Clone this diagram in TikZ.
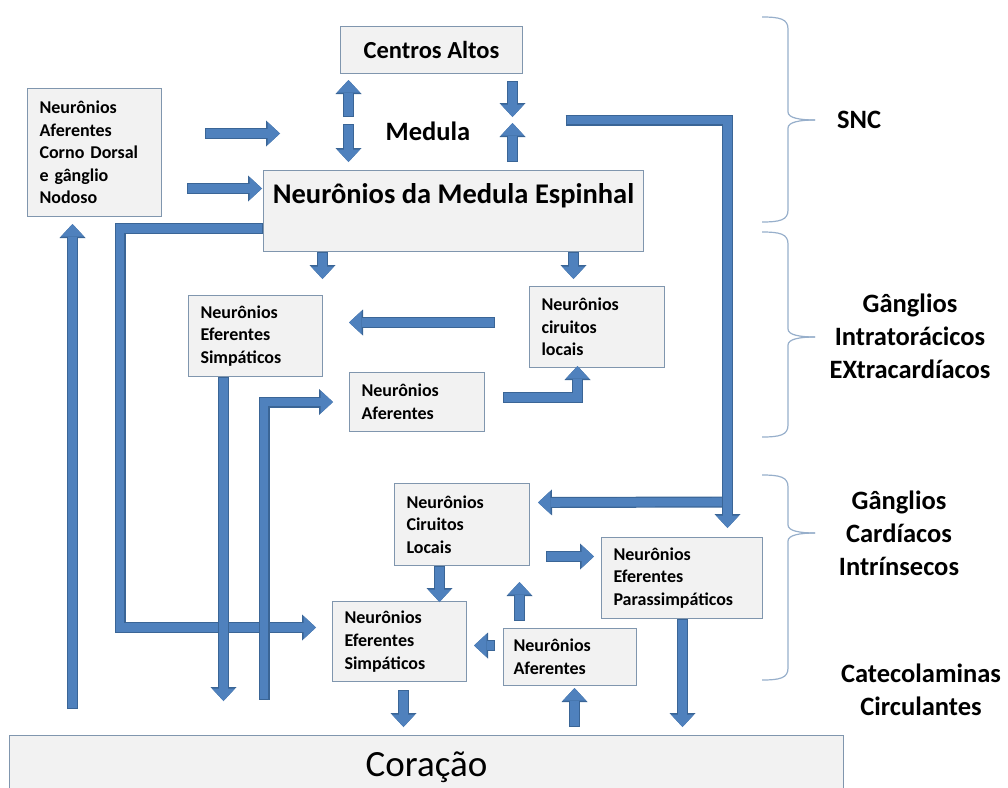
\documentclass[tikz,border=0pt]{standalone}
\usepackage{fontspec}
\setmainfont{Carlito}
\usetikzlibrary{arrows.meta,calc}
\definecolor{afill}{HTML}{4F81BD}
\definecolor{aline}{HTML}{3A6596}
\definecolor{bfill}{HTML}{F2F2F2}
\definecolor{bline}{HTML}{8096AE}
\definecolor{brc}{HTML}{97AFCB}
\newcommand\smallboxfont{\fontsize{18}{22.6}\selectfont\bfseries}
\newcommand\biglabfont{\fontsize{26.5}{33}\selectfont\bfseries}
\newcommand\barrow[1]{\draw[arrout] #1; \draw[arrin] #1;}
\newcommand\mybrace[3]{%
  \draw[bracestyle] (762,#1) .. controls (780,#1) and (788,{#1+2}) .. (788,{#1+12}) -- (788,{#2-8}) .. controls (788,{#2-2}) and (800,#2) .. (815,#2);
  \draw[bracestyle] (815,#2) .. controls (800,#2) and (788,{#2+2}) .. (788,{#2+8}) -- (788,{#3-12}) .. controls (788,{#3-2}) and (780,#3) .. (762,#3);}
\tikzset{
  box/.style={draw=bline, line width=1pt, fill=bfill, inner xsep=12pt, inner ysep=0pt, align=left, anchor=north west, font=\smallboxfont},
  arrout/.style={draw=aline, line width=11pt, line join=miter, -{Triangle[width=26pt,length=14pt,line width'=0pt]}},
  arrin/.style={draw=afill, line width=8.6pt, line join=miter, shorten <=1pt, -{Triangle[width=23pt,length=12.5pt,line width'=0pt]}},
  bracestyle/.style={draw=brc, line width=1.2pt},
  lab/.style={font=\biglabfont, align=center},
}
\begin{document}
\begin{tikzpicture}[x=1pt,y=-1pt]
\useasboundingbox (0,0) rectangle (1008,787);
\clip (0,0) rectangle (1008,787);
% boxes
\node[box, minimum width=182pt, minimum height=47pt, align=center, inner xsep=0pt, font=\fontsize{24.5}{27}\selectfont\bfseries] (ca) at (340,26) {Centros Altos};
\node[box, minimum width=134pt, minimum height=128pt, text width=110pt] (lbox) at (27,88) {Neurônios\\Aferentes\\Corno Dorsal\\e gânglio\\Nodoso};
\node[box, minimum width=380pt, minimum height=81pt] (med) at (263,170) {};
\node[font=\fontsize{28.5}{31}\selectfont\bfseries, anchor=base] (medtext) at ($(med.north)+(0,33)$) {Neurônios da Medula Espinhal};
\node[font=\fontsize{26.5}{29}\selectfont\bfseries] (medlab) at (428,131) {Medula};
\node[box, minimum width=134pt, minimum height=81pt, text width=110pt] (es1) at (188,295) {Neurônios\\Eferentes\\Simpáticos};
\node[box, minimum width=135pt, minimum height=59pt, text width=111pt] (af1) at (349,372) {Neurônios\\Aferentes};
\node[box, minimum width=135pt, minimum height=81pt, text width=111pt] (cl1) at (529,286) {Neurônios\\ciruitos\\locais};
\node[box, minimum width=135pt, minimum height=82pt, text width=111pt] (cl2) at (394,483) {Neurônios\\Ciruitos\\Locais};
\node[box, minimum width=134pt, minimum height=80pt, text width=110pt] (es2) at (332,601) {Neurônios\\Eferentes\\Simpáticos};
\node[box, minimum width=133pt, minimum height=57pt, text width=113pt, inner xsep=10pt] (af2) at (503,628) {Neurônios\\Aferentes};
\node[box, minimum width=161pt, minimum height=81pt, text width=137pt] (par) at (601,537) {Neurônios\\Eferentes\\Parassimpáticos};
\node[box, minimum width=834pt, minimum height=64pt, align=center, inner xsep=0pt, font=\fontsize{37}{40}\selectfont] (cor) at (9,735) {Coração};
% right labels
\node[lab] (snc) at (859,120) {SNC};
\node[lab] (gie) at (910,336) {Gânglios\\Intratorácicos\\EXtracardíacos};
\node[lab] (gci) at (899,533) {Gânglios\\Cardíacos\\Intrínsecos};
\node[lab] (cc) at (921,690) {Catecolaminas\\Circulantes};
% braces
\mybrace{17}{120}{222}
\mybrace{232}{337}{437}
\mybrace{475}{533}{680}
% arrows: top
\barrow{($(med.north)+(-105,-53)$) -- ($(ca.south)+(-83,6)$)}
\barrow{($(ca.south)+(-83,50)$) -- ($(med.north)+(-105,-8)$)}
\barrow{($(ca.south)+(81,7)$) -- ($(med.north)+(59,-53)$)}
\barrow{($(med.north)+(59,-8)$) -- ($(ca.south)+(81,49)$)}
\barrow{($(lbox.east)+(43,-19)$) -- ($(lbox.east)+(118,-19)$)}
\barrow{($(lbox.east)+(25,36)$) -- ($(med.west)+(-1,-22.5)$)}
% long left loops
\barrow{($(med.west)+(0,17.5)$) -| ($(es2.west)+(-212,-14)$) -- ($(es2.west)+(-16,-14)$)}
\barrow{($(lbox.south)+(-22,492)$) -- ($(lbox.south)+(-22,7)$)}
\barrow{($(es1.south)+(-32,0)$) -- ($(es1.south)+(-32,324)$)}
\barrow{($(af1.west)+(-85,297.5)$) |- ($(af1.west)+(-16,0)$)}
% middle
\barrow{($(med.south)+(-131,0)$) -- ($(med.south)+(-131,27)$)}
\barrow{($(med.south)+(120,0)$) -- ($(med.south)+(120,27)$)}
\barrow{($(cl1.west)+(-34,-4.5)$) -- ($(es1.east)+(26,-13.5)$)}
\barrow{($(af1.east)+(18,-4.5)$) -| ($(cl1.south)+(-19.5,-2)$)}
% right long elbow and branch
\barrow{($(par.north)+(45.5,-35)$) -- ($(cl2.east)+(8,-22)$)}
\barrow{($(med.north)+(112,-50)$) -| ($(par.north)+(45.5,-9)$)}
% lower
\barrow{($(cl2.east)+(16,32)$) -- ($(par.west)+(-7,-21.5)$)}
\barrow{($(cl2.south)+(-22.5,0)$) -- ($(es2.north)+(40,1)$)}
\barrow{($(af2.north)+(-50.5,-7)$) -- ($(cl2.south)+(57.5,16)$)}
\barrow{($(af2.west)+(-8,-11.5)$) -- ($(es2.east)+(7,4)$)}
\barrow{($(es2.south)+(4,8)$) -- ($(cor.north)+(-23,-8)$)}
\barrow{($(cor.north)+(148,-8)$) -- ($(af2.south)+(4.5,2)$)}
\barrow{($(par.south)+(0.5,0)$) -- ($(cor.north)+(256,-8)$)}
\end{tikzpicture}
\end{document}
